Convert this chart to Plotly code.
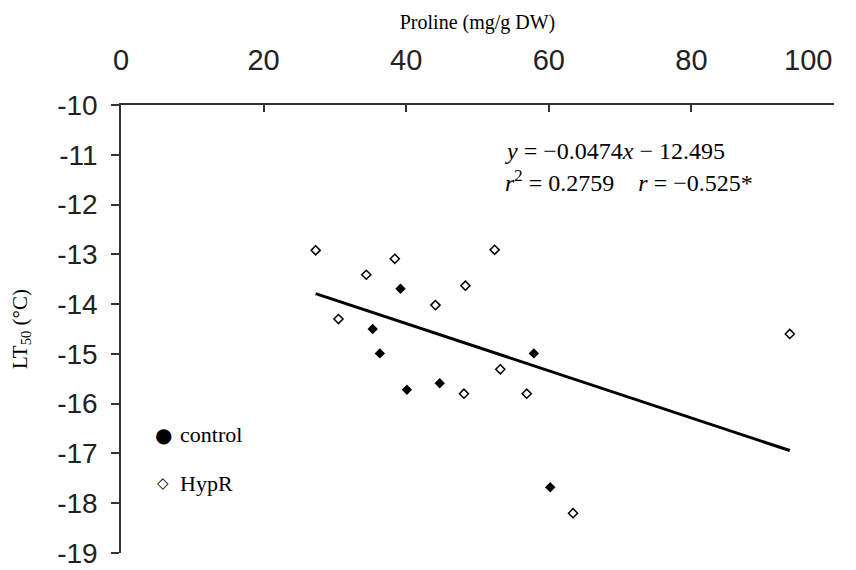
import plotly.graph_objects as go

# Data
control_x = [39.2, 35.3, 36.3, 57.9, 40.1, 44.7, 60.2]
control_y = [-13.69, -14.50, -14.99, -14.99, -15.72, -15.59, -17.68]

hypr_x = [27.3, 38.4, 34.4, 52.4, 48.3, 44.1, 30.5, 53.2, 48.1, 56.9, 63.4, 93.8]
hypr_y = [-12.92, -13.09, -13.41, -12.91, -13.63, -14.02, -14.30, -15.31, -15.80, -15.80, -18.20, -14.60]

slope = -0.0474
intercept = -12.495

x_ticks = [0, 20, 40, 60, 80, 100]
# the last label is drawn right-aligned inside the chart (as in the original)
x_tick_text = ["0", "20", "40", "60", "80", ""]
x_last_label = "100"
y_ticks = [-10, -11, -12, -13, -14, -15, -16, -17, -18, -19]
y_tick_text = [str(v) for v in y_ticks]

all_x = control_x + hypr_x
fit_x = [min(all_x), max(all_x)]
fit_y = [slope * v + intercept for v in fit_x]

serif = "Liberation Serif"
sans = "Liberation Sans"

fig = go.Figure()
fig.add_trace(go.Scatter(x=fit_x, y=fit_y, mode="lines",
                         line=dict(color="black", width=3), showlegend=False))
fig.add_trace(go.Scatter(x=hypr_x, y=hypr_y, mode="markers",
                         marker=dict(symbol="diamond-open", size=7, color="black",
                                     line=dict(color="black", width=1.5)),
                         showlegend=False))
fig.add_trace(go.Scatter(x=control_x, y=control_y, mode="markers",
                         marker=dict(symbol="diamond", size=8, color="black"),
                         showlegend=False))

annotations = [
    dict(x=1, y=1, xref="paper", yref="paper", xanchor="right", yanchor="middle",
         yshift=45, text=x_last_label, showarrow=False,
         font=dict(family=sans, size=29, color="#222")),
    dict(x=53.6, y=-10.92, xref="x", yref="y", xanchor="left", yanchor="middle",
         text="<i>y</i> = −0.0474<i>x</i> − 12.495", showarrow=False,
         font=dict(family=serif, size=24, color="black")),
    dict(x=53.6, y=-11.53, xref="x", yref="y", xanchor="left", yanchor="middle",
         text="<i>r</i><sup>2</sup> = 0.2759\u00a0\u00a0\u00a0\u00a0<i>r</i> = −0.525*",
         showarrow=False, font=dict(family=serif, size=24, color="black")),
    # legend (text drawn inside the chart)
    dict(x=5.9, y=-16.62, xref="x", yref="y", xanchor="center", yanchor="middle",
         text="●", showarrow=False,
         font=dict(family="DejaVu Sans", size=20, color="black")),
    dict(x=8.0, y=-16.62, xref="x", yref="y", xanchor="left", yanchor="middle",
         text="control", showarrow=False,
         font=dict(family=serif, size=22, color="black")),
    dict(x=5.9, y=-17.60, xref="x", yref="y", xanchor="center", yanchor="middle",
         text="◇", showarrow=False,
         font=dict(family="DejaVu Sans", size=15, color="black")),
    dict(x=8.0, y=-17.60, xref="x", yref="y", xanchor="left", yanchor="middle",
         text="HypR", showarrow=False,
         font=dict(family=serif, size=22, color="black")),
]

fig.update_layout(
    width=856, height=570,
    margin=dict(l=121, r=22, t=105, b=17),
    paper_bgcolor="white", plot_bgcolor="white",
    annotations=annotations,
    showlegend=False,
    xaxis=dict(
        side="top", range=[0, 100], tickvals=x_ticks, ticktext=x_tick_text,
        automargin=False,
        ticks="inside", ticklen=7, tickwidth=1.5, tickcolor="#333",
        showline=True, linecolor="#333", linewidth=1.5,
        showgrid=False, zeroline=False,
        tickfont=dict(family=sans, size=29, color="#222"),
        ticklabelstandoff=22,
        title=dict(text="Proline (mg/g DW)", standoff=9,
                   font=dict(family=serif, size=20, color="black")),
    ),
    yaxis=dict(
        range=[-19, -10], tickvals=y_ticks, ticktext=y_tick_text,
        automargin=False, ticklabeloverflow="allow",
        ticks="outside", ticklen=8, tickwidth=1.5, tickcolor="#333",
        showline=True, linecolor="#333", linewidth=1.5,
        showgrid=False, zeroline=False,
        tickfont=dict(family=sans, size=28, color="#222"),
        ticklabelstandoff=8,
        title=dict(text="LT<sub>50</sub> (°C)", standoff=24,
                   font=dict(family=serif, size=21, color="black")),
    ),
)

fig.write_html("out.html", config={"displayModeBar": False},
               post_script="document.body.style.margin='0';")
